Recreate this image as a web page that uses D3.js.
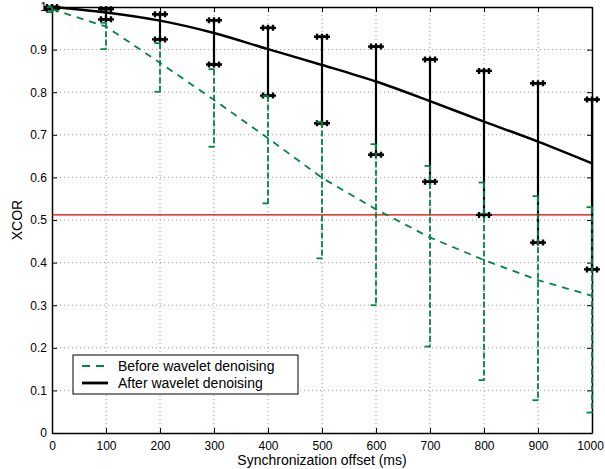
<!DOCTYPE html>
<meta charset="utf-8">
<title>XCOR vs synchronization offset</title>
<script src="https://cdn.jsdelivr.net/npm/d3@7"></script>
<style>
body {
	margin: 0;
	background: #fff;
}
</style>
<body>
<script>
// Data
const offsets = [0, 100, 200, 300, 400, 500, 600, 700, 800, 900, 1000];
const beforeMean = [0.995, 0.954, 0.869, 0.782, 0.692, 0.599, 0.525, 0.459, 0.406, 0.359, 0.322];
const beforeHigh = [1.0, 0.963, 0.915, 0.854, 0.791, 0.730, 0.678, 0.627, 0.588, 0.556, 0.530];
const beforeLow = [0.988, 0.901, 0.801, 0.672, 0.539, 0.410, 0.300, 0.203, 0.124, 0.077, 0.048];
const afterMean = [1.0, 0.987, 0.968, 0.939, 0.901, 0.864, 0.825, 0.779, 0.731, 0.684, 0.633];
const afterHigh = [1.0, 0.995, 0.983, 0.969, 0.951, 0.930, 0.907, 0.877, 0.850, 0.821, 0.783];
const afterLow = [0.995, 0.971, 0.924, 0.865, 0.792, 0.727, 0.653, 0.590, 0.512, 0.447, 0.384];
const threshold = 0.512;
const xTicks = [0, 100, 200, 300, 400, 500, 600, 700, 800, 900, 1000];
const yTicks = [0, 0.1, 0.2, 0.3, 0.4, 0.5, 0.6, 0.7, 0.8, 0.9, 1];
const seriesNames = ['Before wavelet denoising', 'After wavelet denoising'];

const green = '#008542';
const black = '#000';
const font = 'Liberation Sans, Arial, Helvetica, sans-serif';
const tickSize = 12;
const titleSize = 14;

const margin = {top: 7, right: 13, bottom: 36, left: 52};
const width = 605 - margin.left - margin.right;
const height = 469 - margin.top - margin.bottom;

const x = d3.scaleLinear().domain([0, 1000]).range([0, width]);
const y = d3.scaleLinear().domain([0, 1]).range([height, 0]);

const svg = d3.select('body')
	.append('svg')
		.attr('width', 605)
		.attr('height', 469)
		.attr('font-family', font)
	.append('g')
		.attr('transform', `translate(${margin.left}, ${margin.top})`);

// Dotted grid
svg.append('g')
	.selectAll('line')
	.data(xTicks.slice(1, -1))
	.join('line')
		.attr('x1', d => x(d)).attr('x2', d => x(d))
		.attr('y1', 0).attr('y2', height)
		.attr('stroke', '#999')
		.attr('stroke-dasharray', '1,3');
svg.append('g')
	.selectAll('line')
	.data(yTicks.slice(1, -1))
	.join('line')
		.attr('y1', d => y(d)).attr('y2', d => y(d))
		.attr('x1', 0).attr('x2', width)
		.attr('stroke', '#999')
		.attr('stroke-dasharray', '1,3');

// Axes, ticks inside on all four sides
const fmtY = d => (d === 0 || d === 1) ? String(d) : d.toFixed(1);
const bottomAxis = svg.append('g')
	.attr('transform', `translate(0, ${height})`)
	.call(d3.axisBottom(x).tickValues(xTicks).tickFormat(d3.format('d'))
		.tickSizeInner(-5).tickSizeOuter(0).tickPadding(8));
const leftAxis = svg.append('g')
	.call(d3.axisLeft(y).tickValues(yTicks).tickFormat(fmtY).tickSizeInner(-5).tickSizeOuter(0).tickPadding(5));
svg.append('g')
	.call(d3.axisTop(x).tickValues(xTicks).tickSizeInner(-5).tickSizeOuter(0).tickFormat(''));
svg.append('g')
	.attr('transform', `translate(${width}, 0)`)
	.call(d3.axisRight(y).tickValues(yTicks).tickSizeInner(-5).tickSizeOuter(0).tickFormat(''));
svg.selectAll('.domain').attr('stroke', black).attr('stroke-width', 1.5);
svg.selectAll('.tick line').attr('stroke', black);
svg.selectAll('.tick text')
	.attr('font-size', tickSize)
	.attr('font-family', font)
	.attr('fill', black);
// last label sits right at the page edge
bottomAxis.selectAll('.tick:last-of-type text').attr('dx', -2);

// Axis titles
svg.append('text')
	.attr('x', width / 2)
	.attr('y', height + 32)
	.attr('text-anchor', 'middle')
	.attr('font-size', titleSize)
	.text('Synchronization offset (ms)');
svg.append('text')
	.attr('transform', `translate(${-30}, ${height / 2}) rotate(-90)`)
	.attr('text-anchor', 'middle')
	.attr('font-size', titleSize)
	.text('XCOR');

// Threshold line
svg.append('line')
	.attr('x1', 0).attr('x2', width)
	.attr('y1', y(threshold)).attr('y2', y(threshold))
	.attr('stroke', '#e00000')
	.attr('stroke-width', 1.2);

// After denoising: smooth mean curve plus error bars with +++ caps
svg.append('path')
	.datum(offsets)
	.attr('fill', 'none')
	.attr('stroke', black)
	.attr('stroke-width', 2.5)
	.attr('d', d3.line()
		.x(d => x(d))
		.y((d, i) => y(afterMean[i]))
		.curve(d3.curveMonotoneX));

const afterBars = svg.append('g').selectAll('g')
	.data(offsets)
	.join('g');
afterBars.append('line')
	.attr('x1', d => x(d)).attr('x2', d => x(d))
	.attr('y1', (d, i) => y(afterHigh[i]))
	.attr('y2', (d, i) => y(afterLow[i]))
	.attr('stroke', black)
	.attr('stroke-width', 2.2);
[afterHigh, afterLow].forEach(ends => {
	afterBars.each(function(d, i) {
		const g = d3.select(this);
		const cx = x(d);
		const cy = y(ends[i]);
		g.append('line')
			.attr('x1', cx - 5).attr('x2', cx + 5)
			.attr('y1', cy).attr('y2', cy)
			.attr('stroke', black)
			.attr('stroke-width', 2.5);
		[-5, 0, 5].forEach(dx => {
			g.append('path')
				.attr('d', `M${cx + dx - 3},${cy}H${cx + dx + 3}M${cx + dx},${cy - 3}V${cy + 3}`)
				.attr('stroke', black)
				.attr('stroke-width', 2.4);
		});
	});
});

// Before denoising: dashed mean curve plus dashed error bars
svg.append('path')
	.datum(offsets)
	.attr('fill', 'none')
	.attr('stroke', green)
	.attr('stroke-width', 1.8)
	.attr('stroke-dasharray', '7,6')
	.attr('d', d3.line()
		.x(d => x(d))
		.y((d, i) => y(beforeMean[i])));

const beforeBars = svg.append('g').selectAll('g')
	.data(offsets)
	.join('g')
		.attr('stroke', green)
		.attr('stroke-width', 1.8);
beforeBars.append('line')
	.attr('x1', d => x(d)).attr('x2', d => x(d))
	.attr('y1', (d, i) => y(beforeHigh[i]))
	.attr('y2', (d, i) => y(beforeLow[i]))
	.attr('stroke-dasharray', '6,2.5');
[beforeHigh, beforeLow].forEach(ends => {
	beforeBars.append('line')
		.attr('x1', d => x(d) - 5.5).attr('x2', d => x(d) + 0.5)
		.attr('y1', (d, i) => y(ends[i]))
		.attr('y2', (d, i) => y(ends[i]));
});

// Legend
const legend = svg.append('g')
	.attr('transform', `translate(${73 - margin.left}, ${355 - margin.top})`);
legend.append('rect')
	.attr('width', 225)
	.attr('height', 39)
	.attr('fill', '#fff')
	.attr('stroke', black)
	.attr('stroke-width', 1);
const rows = legend.selectAll('g.row')
	.data(seriesNames)
	.join('g')
		.attr('transform', (d, i) => `translate(0, ${11 + i * 17})`);
rows.append('line')
	.attr('x1', 9).attr('x2', 35)
	.attr('stroke', (d, i) => i === 0 ? green : black)
	.attr('stroke-width', (d, i) => i === 0 ? 1.8 : 2.8)
	.attr('stroke-dasharray', (d, i) => i === 0 ? '8,6' : null);
rows.append('text')
	.attr('x', 45)
	.attr('dy', '0.35em')
	.attr('font-size', titleSize)
	.text(d => d);
</script>
</body>
